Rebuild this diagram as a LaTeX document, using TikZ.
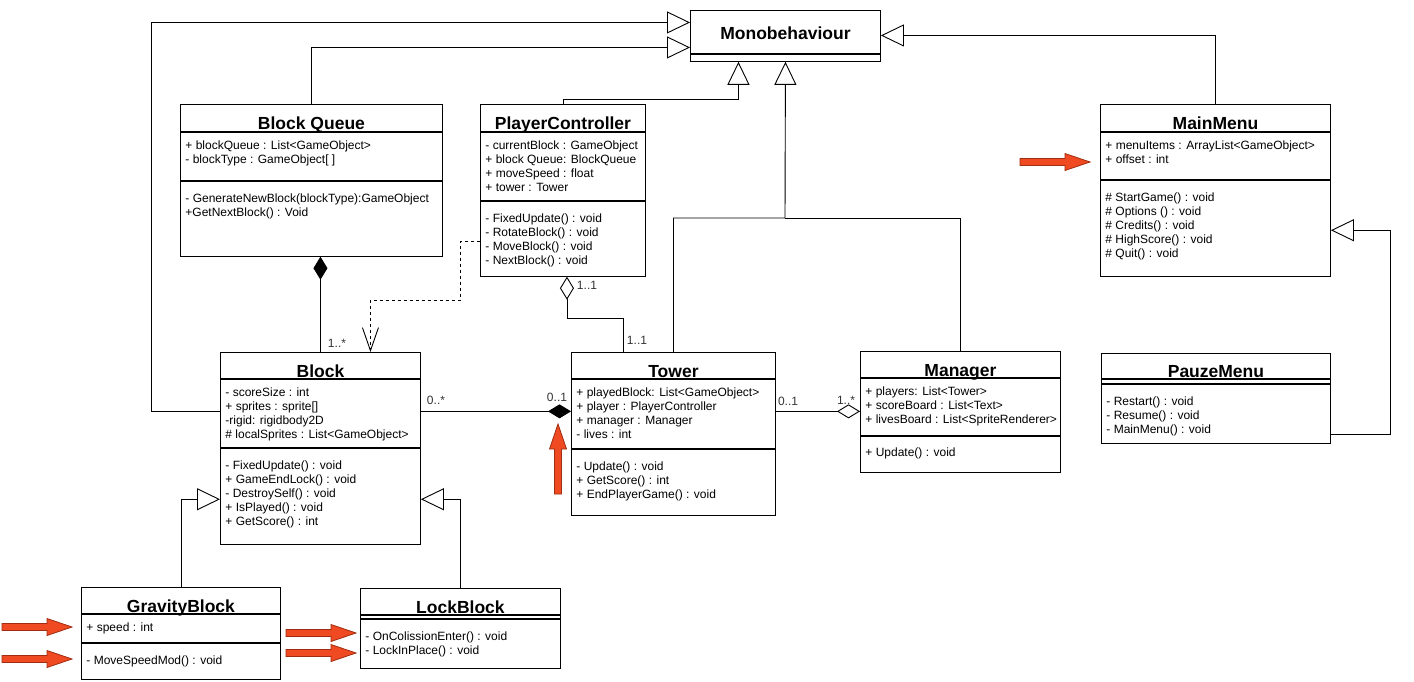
\documentclass[tikz,border=0pt]{standalone}
\usepackage{fontspec}
\setmainfont{Liberation Sans}
\usetikzlibrary{arrows.meta,positioning}

\definecolor{hintfill}{RGB}{240,74,34}
\definecolor{hintdraw}{RGB}{160,45,15}

\tikzset{
  classtitle/.style={draw, anchor=north west, inner sep=0pt,
    font=\bfseries\fontsize{17.5}{20}\selectfont, text height=23.5pt, text depth=0pt},
  classpart/.style={draw, anchor=north west, inner sep=0pt},
  members/.style={anchor=north west, inner sep=0pt, align=left,
    font=\fontsize{12}{14}\selectfont},
  mult/.style={inner sep=0pt, text=black!80, font=\fontsize{12}{14}\selectfont},
  inherit/.style={-{Triangle[open, length=23pt, width=22pt]}},
  composite/.style={-{Diamond[length=23pt, width=14pt]}},
  shared/.style={-{Diamond[open, length=23pt, width=14pt]}},
  uses/.style={dash pattern=on 3pt off 3pt, -{Straight Barb[length=23pt, width=16pt]}},
  hint/.pic={
    \draw[fill=hintfill, draw=hintdraw, line width=0.8pt]
      (0,0) -- (-25,8.5) -- (-25,3.5) -- (-70,3.5) -- (-70,-3.5) -- (-25,-3.5) -- (-25,-8.5) -- cycle;
  }
}

\begin{document}
\begin{tikzpicture}[x=1pt, y=-1pt, line width=0.9pt]
  \useasboundingbox (0,0) rectangle (1414,681);

  % classes
  \node[classtitle, minimum width=190pt, minimum height=43pt, text height=15.6pt] (mono) at (690,10) {Monobehaviour};
  \node[classpart, minimum width=190pt, minimum height=7pt] (monoB) at (mono.south west) {};

  \node[classtitle, minimum width=262pt, minimum height=27pt] (bq) at (180,104) {Block Queue};
  \node[classpart, minimum width=262pt, minimum height=48pt] (bqA) at (bq.south west) {};
  \node[classpart, minimum width=262pt, minimum height=75pt] (bqM) at (bqA.south west) {};
  \node[members, below right=8.5pt and 5pt of bqA.north west] (bqAt) {+ blockQueue : List<GameObject>\\- blockType : GameObject[ ]};
  \node[members, below right=13pt and 5pt of bqM.north west] (bqMt) {- GenerateNewBlock(blockType):GameObject\\+GetNextBlock() : Void};

  \node[classtitle, minimum width=165pt, minimum height=27pt] (pc) at (480,104) {PlayerController};
  \node[classpart, minimum width=165pt, minimum height=68pt] (pcA) at (pc.south west) {};
  \node[classpart, minimum width=165pt, minimum height=75pt] (pcM) at (pcA.south west) {};
  \node[members, below right=8.5pt and 5pt of pcA.north west] (pcAt) {- currentBlock : GameObject\\+ block Queue: BlockQueue\\+ moveSpeed : float\\+ tower : Tower};
  \node[members, below right=13pt and 5pt of pcM.north west] (pcMt) {- FixedUpdate() : void\\- RotateBlock() : void\\- MoveBlock() : void\\- NextBlock() : void};

  \node[classtitle, minimum width=230pt, minimum height=27pt] (mm) at (1100,104) {MainMenu};
  \node[classpart, minimum width=230pt, minimum height=47pt] (mmA) at (mm.south west) {};
  \node[classpart, minimum width=230pt, minimum height=96pt] (mmM) at (mmA.south west) {};
  \node[members, below right=8.5pt and 5pt of mmA.north west] (mmAt) {+ menuItems : ArrayList<GameObject>\\+ offset : int};
  \node[members, below right=13pt and 5pt of mmM.north west] (mmMt) {\# StartGame() : void\\\# Options () : void\\\# Credits() : void\\\# HighScore() : void\\\# Quit() : void};

  \node[classtitle, minimum width=200pt, minimum height=26pt] (bl) at (220,352) {Block};
  \node[classpart, minimum width=200pt, minimum height=68pt] (blA) at (bl.south west) {};
  \node[classpart, minimum width=200pt, minimum height=96pt] (blM) at (blA.south west) {};
  \node[members, below right=8.5pt and 5pt of blA.north west] (blAt) {- scoreSize : int\\+ sprites : sprite[]\\-rigid: rigidbody2D\\\# localSprites : List<GameObject>};
  \node[members, below right=13pt and 5pt of blM.north west] (blMt) {- FixedUpdate() : void\\+ GameEndLock() : void\\- DestroySelf() : void\\+ IsPlayed() : void\\+ GetScore() : int};

  \node[classtitle, minimum width=204pt, minimum height=26pt] (tw) at (571,352) {Tower};
  \node[classpart, minimum width=204pt, minimum height=69pt] (twA) at (tw.south west) {};
  \node[classpart, minimum width=204pt, minimum height=66pt] (twM) at (twA.south west) {};
  \node[members, below right=8.5pt and 5pt of twA.north west] (twAt) {+ playedBlock: List<GameObject>\\+ player : PlayerController\\+ manager : Manager\\- lives : int};
  \node[members, below right=13pt and 5pt of twM.north west] (twMt) {- Update() : void\\+ GetScore() : int\\+ EndPlayerGame() : void};

  \node[classtitle, minimum width=200pt, minimum height=26pt] (mg) at (860,351) {Manager};
  \node[classpart, minimum width=200pt, minimum height=57pt] (mgA) at (mg.south west) {};
  \node[classpart, minimum width=200pt, minimum height=36pt] (mgM) at (mgA.south west) {};
  \node[members, below right=8.5pt and 5pt of mgA.north west] (mgAt) {+ players: List<Tower>\\+ scoreBoard : List<Text>\\+ livesBoard : List<SpriteRenderer>};
  \node[members, below right=12pt and 5pt of mgM.north west] (mgMt) {+ Update() : void};

  \node[classtitle, minimum width=229pt, minimum height=25pt] (pm) at (1101,353) {PauzeMenu};
  \node[classpart, minimum width=229pt, minimum height=4pt] (pmA) at (pm.south west) {};
  \node[classpart, minimum width=229pt, minimum height=59pt] (pmM) at (pmA.south west) {};
  \node[members, below right=13pt and 5pt of pmM.north west] (pmMt) {- Restart() : void\\- Resume() : void\\- MainMenu() : void};

  \node[classtitle, minimum width=199pt, minimum height=26pt] (gb) at (81,587) {GravityBlock};
  \node[classpart, minimum width=199pt, minimum height=28pt] (gbA) at (gb.south west) {};
  \node[classpart, minimum width=199pt, minimum height=36pt] (gbM) at (gbA.south west) {};
  \node[members, below right=8.5pt and 5pt of gbA.north west] (gbAt) {+ speed : int};
  \node[members, below right=13pt and 5pt of gbM.north west] (gbMt) {- MoveSpeedMod() : void};

  \node[classtitle, minimum width=200pt, minimum height=26pt] (lb) at (360,588) {LockBlock};
  \node[classpart, minimum width=200pt, minimum height=3pt] (lbA) at (lb.south west) {};
  \node[classpart, minimum width=200pt, minimum height=49pt] (lbM) at (lbA.south west) {};
  \node[members, below right=12.5pt and 5pt of lbM.north west] (lbMt) {- OnColissionEnter() : void\\- LockInPlace() : void};

  % generalisation
  \draw[inherit] ([yshift=2pt]blA.west) -- ++(-69,0) |- ([yshift=9.5pt]mono.west);
  \draw[inherit] (bq.north) |- ([yshift=-15.5pt]mono.west);
  \draw[inherit] (pc.north) -- ++(0,-5) -| ([xshift=-47pt]monoB.south);
  \coordinate (split) at (785,218);
  \draw[inherit] (tw.north) |- (split) -- (monoB.south);
  \draw (mg.north) |- (split);
  \draw[inherit] (mm.north) |- ([yshift=-3.5pt]mono.east);
  \draw[inherit] ([yshift=-20.5pt]pmM.east) -- ++(60,0) |- ([yshift=-2pt]mmM.east);
  \draw[inherit] (gb.north) |- ([yshift=-3pt]blM.west);
  \draw[inherit] (lb.north) |- ([yshift=-3pt]blM.east);

  % associations
  \draw[composite] (bl.north) -- (bl.north |- bqM.south);
  \draw[uses] ([yshift=-3pt]pcM.west) -- ++(-20,0) -- ++(0,58.5) -| ([xshift=50pt]bl.north);
  \draw[shared] ([xshift=-50pt]tw.north) -- ++(0,-34) -| ([xshift=4pt]pcM.south);
  \draw[composite] ([yshift=2pt]blA.east) -- ([yshift=2pt]blA.east -| twA.west);
  \draw[shared] ([yshift=2.5pt]twA.east) -- ([yshift=2.5pt]twA.east -| mgA.west);

  \node[mult] (mBq) at (337,343) {1..*};
  \node[mult] (mPc) at (587,285) {1..1};
  \node[mult] (mTwTop) at (637,340) {1..1};
  \node[mult] (mBl) at (436,400) {0..*};
  \node[mult] (mTwL) at (557,397) {0..1};
  \node[mult] (mTwR) at (788,401) {0..1};
  \node[mult] (mMg) at (846,400) {1..*};

  % red hints
  \pic at (1090,162) {hint};
  \pic[rotate=90] at (558,424) {hint};
  \pic at (72,627) {hint};
  \pic at (72,659) {hint};
  \pic at (356,633) {hint};
  \pic at (356,653) {hint};
\end{tikzpicture}
\end{document}
